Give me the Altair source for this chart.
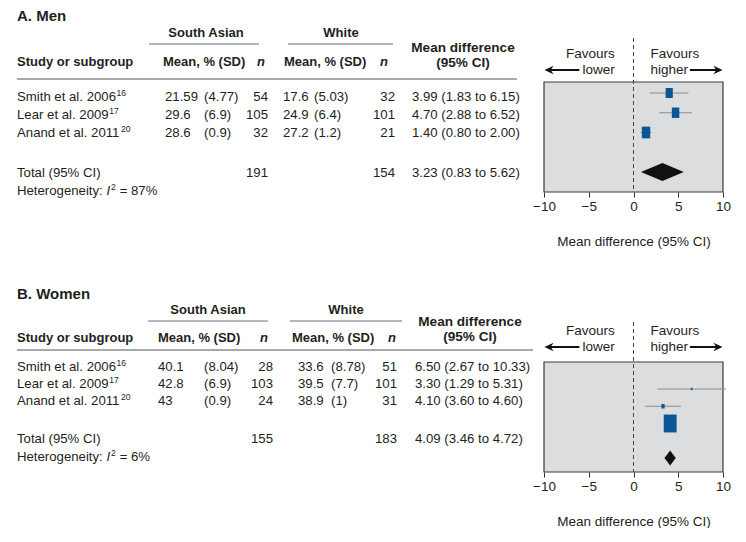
import altair as alt
import pandas as pd

# ---------------- data ----------------
studies = ["Smith et al. 2006", "Lear et al. 2009", "Anand et al. 2011"]
study_refs = ["16", "17", "20"]

men_sa_mean = [21.59, 29.6, 28.6]
men_sa_sd = [4.77, 6.9, 0.9]
men_sa_n = [54, 105, 32]
men_w_mean = [17.6, 24.9, 27.2]
men_w_sd = [5.03, 6.4, 1.2]
men_w_n = [32, 101, 21]
men_md = [3.99, 4.70, 1.40]
men_lo = [1.83, 2.88, 0.80]
men_hi = [6.15, 6.52, 2.00]
men_weight = [29.0, 31.4, 39.6]
men_total_n = [191, 154]
men_total_ci = [3.23, 0.83, 5.62]
men_i2 = 87

women_sa_mean = [40.1, 42.8, 43]
women_sa_sd = [8.04, 6.9, 0.9]
women_sa_n = [28, 103, 24]
women_w_mean = [33.6, 39.5, 38.9]
women_w_sd = [8.78, 7.7, 1]
women_w_n = [51, 101, 31]
women_md = [6.50, 3.30, 4.10]
women_lo = [2.67, 1.29, 3.60]
women_hi = [10.33, 5.31, 4.60]
women_weight = [1.6, 5.8, 92.6]
women_total_n = [155, 183]
women_total_ci = [4.09, 3.46, 4.72]
women_i2 = 6

x_ticks = [-10, -5, 0, 5, 10]

# ---------------- style / layout ----------------
FONT = "Liberation Sans, Arial, Helvetica, sans-serif"
TXT = "#231f20"
BLUE = "#0b5596"
FS = 13.2
FSB = 13.0
FSUP = 8.6

# Arial / Liberation Sans advance widths (per 1000 em) for placing superscripts
AW = {" ": 278, ".": 278, ":": 278, "S": 667, "L": 556, "A": 667, "H": 722,
      "m": 833, "i": 222, "t": 278, "h": 556, "e": 556, "a": 556, "l": 222,
      "r": 333, "n": 556, "d": 556, "o": 556, "g": 556, "y": 500}


def text_w(s, size):
    return sum(AW.get(c, 556) for c in s) * size / 1000.0


LAYOUT = {
    "A": dict(top=8, bottom=192, title_y=16, group_y=33, gline_y=44, head_y=62,
              md1_y=48, md2_y=63, hline_y=79, hline_x2=517, row0=96.5, pitch=18,
              total_y=173, het_y=191, sa_line=(149, 259), w_line=(288, 393),
              sa_c=206, w_c=341, md_c=463,
              hdr_sa_mean=163, hdr_sa_n=257, hdr_w_mean=284, hdr_w_n=380,
              c_sa_mean=165, c_sa_sd=204, c_sa_n=268, c_w_mean=283, c_w_sd=314,
              c_w_n=395, c_md=412,
              f_row0=93, f_pitch=19.75, box_top=82, dash_top=38, fav1=54, fav2=70,
              diamond_h=9, size_max=320),
    "B": dict(top=280, bottom=472, title_y=294, group_y=310, gline_y=321, head_y=338,
              md1_y=322, md2_y=337, hline_y=350, hline_x2=533, row0=367, pitch=16.8,
              total_y=439, het_y=457, sa_line=(148, 268), w_line=(290, 402),
              sa_c=208, w_c=346, md_c=470,
              hdr_sa_mean=158, hdr_sa_n=260, hdr_w_mean=292, hdr_w_n=388,
              c_sa_mean=158, c_sa_sd=204, c_sa_n=273, c_w_mean=298, c_w_sd=331,
              c_w_n=397, c_md=415,
              f_row0=389, f_pitch=17.25, box_top=362, dash_top=322, fav1=331, fav2=347,
              diamond_h=7.5, size_max=1150),
}

TABLE_W = 526
FOREST_W = 179


def fmt(v):
    return f"{v:g}"


def table_chart(p, title, sa_mean, sa_sd, sa_n, w_mean, w_sd, w_n, md, lo, hi,
                total_n, total_ci, i2):
    L = LAYOUT[p]
    items = []

    def add(x, y, text, kind):
        items.append(dict(x=x, y=y, text=text, kind=kind))

    add(17, L["title_y"], title, "title")
    add(L["sa_c"], L["group_y"], "South Asian", "bold_c")
    add(L["w_c"], L["group_y"], "White", "bold_c")
    add(17, L["head_y"], "Study or subgroup", "bold_l")
    add(L["hdr_sa_mean"], L["head_y"], "Mean, % (SD)", "bold_l")
    add(L["hdr_sa_n"], L["head_y"], "n", "bi_l")
    add(L["hdr_w_mean"], L["head_y"], "Mean, % (SD)", "bold_l")
    add(L["hdr_w_n"], L["head_y"], "n", "bi_l")
    add(L["md_c"], L["md1_y"], "Mean difference", "md_c")
    add(L["md_c"], L["md2_y"], "(95% CI)", "md_c")
    for i, name in enumerate(studies):
        y = L["row0"] + i * L["pitch"]
        add(17, y, name, "norm_l")
        add(17 + text_w(name, FS) + 0.5, y - 4, study_refs[i], "sup_l")
        add(L["c_sa_mean"], y, fmt(sa_mean[i]), "norm_l")
        add(L["c_sa_sd"], y, f"({fmt(sa_sd[i])})", "norm_l")
        add(L["c_sa_n"], y, str(sa_n[i]), "norm_r")
        add(L["c_w_mean"], y, fmt(w_mean[i]), "norm_l")
        add(L["c_w_sd"], y, f"({fmt(w_sd[i])})", "norm_l")
        add(L["c_w_n"], y, str(w_n[i]), "norm_r")
        add(L["c_md"], y, f"{md[i]:.2f} ({lo[i]:.2f} to {hi[i]:.2f})", "norm_l")
    ty = L["total_y"]
    add(17, ty, "Total (95% CI)", "norm_l")
    add(L["c_sa_n"], ty, str(total_n[0]), "norm_r")
    add(L["c_w_n"], ty, str(total_n[1]), "norm_r")
    add(L["c_md"], ty, f"{total_ci[0]:.2f} ({total_ci[1]:.2f} to {total_ci[2]:.2f})", "norm_l")
    hy = L["het_y"]
    lead = "Heterogeneity: "
    x_i = 17 + text_w(lead, FS)
    add(17, hy, lead, "norm_l")
    add(x_i, hy, "I", "it_l")
    add(x_i + 0.278 * FS + 0.8, hy - 4, "2", "sup_l")
    add(x_i + 0.278 * FS + 1.5 + 0.556 * FSUP + 3.2, hy, f"= {i2}%", "norm_l")

    df = pd.DataFrame(items)
    xs = alt.Scale(domain=[8, 8 + TABLE_W], nice=False, zero=False)
    ys = alt.Scale(domain=[L["top"], L["bottom"]], reverse=True, nice=False, zero=False)

    styles = {
        "title": dict(align="left", fontWeight="bold", fontSize=15),
        "bold_c": dict(align="center", fontWeight="bold", fontSize=FSB),
        "md_c": dict(align="center", fontWeight="bold", fontSize=13.6),
        "bold_l": dict(align="left", fontWeight="bold", fontSize=FSB),
        "bi_l": dict(align="left", fontWeight="bold", fontStyle="italic", fontSize=FSB),
        "norm_l": dict(align="left", fontSize=FS),
        "norm_r": dict(align="right", fontSize=FS),
        "it_l": dict(align="left", fontStyle="italic", fontSize=FS),
        "sup_l": dict(align="left", fontSize=FSUP),
    }
    layers = []
    for kind, st in styles.items():
        sub = df[df["kind"] == kind]
        if len(sub) == 0:
            continue
        layers.append(
            alt.Chart(sub).mark_text(baseline="middle", font=FONT, color=TXT, **st).encode(
                x=alt.X("x:Q", scale=xs, axis=None),
                y=alt.Y("y:Q", scale=ys, axis=None),
                text="text:N",
            )
        )
    lines = pd.DataFrame([
        dict(x=L["sa_line"][0], x2=L["sa_line"][1], y=L["gline_y"], kind="group"),
        dict(x=L["w_line"][0], x2=L["w_line"][1], y=L["gline_y"], kind="group"),
        dict(x=17, x2=L["hline_x2"], y=L["hline_y"], kind="head"),
    ])
    group_rules = alt.Chart(lines[lines.kind == "group"]).mark_rule(
        color="#66727e", strokeWidth=1.2).encode(
        x=alt.X("x:Q", scale=xs, axis=None), x2="x2",
        y=alt.Y("y:Q", scale=ys, axis=None))
    head_rule = alt.Chart(lines[lines.kind == "head"]).mark_rule(
        color="#555555", strokeWidth=1.2).encode(
        x=alt.X("x:Q", scale=xs, axis=None), x2="x2",
        y=alt.Y("y:Q", scale=ys, axis=None))
    return alt.layer(group_rules, head_rule, *layers).properties(
        width=TABLE_W, height=L["bottom"] - L["top"])


RECT = "M-0.72,-1L0.72,-1L0.72,1L-0.72,1Z"
ARROW_L = "M0,0L1.6,-0.75L1.1,0L1.6,0.75Z"
ARROW_R = "M0,0L-1.6,-0.75L-1.1,0L-1.6,0.75Z"


def forest_chart(p, md, lo, hi, weight, total_ci):
    L = LAYOUT[p]

    def r(px):
        return (px - L["f_row0"]) / L["f_pitch"]

    ydom = [r(L["top"]), r(L["bottom"])]
    xs = alt.Scale(domain=[x_ticks[0], x_ticks[-1]], nice=False, zero=False)
    ys = alt.Scale(domain=ydom, reverse=True, nice=False, zero=False)
    xaxis = alt.Axis(values=x_ticks, title="Mean difference (95% CI)", domain=False,
                     grid=False, ticks=True, tickSize=5, tickColor="#333333",
                     labelFontSize=13.5, labelColor=TXT, labelFont=FONT,
                     titleFont=FONT, titleFontSize=13.5, titleFontWeight="normal",
                     titleColor=TXT, labelPadding=2, titlePadding=22, labelFlush=False)

    def X(f):
        return alt.X(f"{f}:Q", scale=xs, axis=xaxis)

    def Y(f):
        return alt.Y(f"{f}:Q", scale=ys, axis=None)

    box = pd.DataFrame({"x": [x_ticks[0]], "x2": [x_ticks[-1]],
                        "y": [r(L["box_top"])], "y2": [ydom[1]]})
    box_layer = alt.Chart(box).mark_rect(fill="#dcdddf", stroke="#3a3a3a",
                                         strokeWidth=1.2).encode(
        x=X("x"), x2="x2", y=Y("y"), y2="y2")

    zero = pd.DataFrame({"x": [0], "y": [r(L["dash_top"])], "y2": [ydom[1]]})
    zero_layer = alt.Chart(zero).mark_rule(strokeDash=[4, 3], color="#444444",
                                           strokeWidth=1).encode(
        x=X("x"), y=Y("y"), y2="y2")

    st = pd.DataFrame({"row": list(range(len(md))), "md": md, "lo": lo, "hi": hi,
                       "w": weight})
    ci_layer = alt.Chart(st).mark_rule(color="#8c8c8c", strokeWidth=1).encode(
        x=X("lo"), x2="hi", y=Y("row"))
    sq_layer = alt.Chart(st).mark_point(shape=RECT, filled=True, color=BLUE,
                                        opacity=1, strokeWidth=0).encode(
        x=X("md"), y=Y("row"),
        size=alt.Size("w:Q", scale=alt.Scale(domain=[0, max(weight)],
                                             range=[0, L["size_max"]], zero=True),
                      legend=None))

    trow = 4
    h = L["diamond_h"] / L["f_pitch"]
    dia = pd.DataFrame({"x": [total_ci[1], total_ci[0], total_ci[2]],
                        "y": [trow, trow - h, trow],
                        "y2": [trow, trow + h, trow]})
    dia_layer = alt.Chart(dia).mark_area(color="#111111", opacity=1).encode(
        x=X("x"), y=Y("y"), y2="y2")

    fav_l = pd.DataFrame({"x": [-2.1, -2.1], "y": [r(L["fav1"]), r(L["fav2"])],
                          "text": ["Favours", "lower"]})
    fav_r = pd.DataFrame({"x": [1.9, 1.9], "y": [r(L["fav1"]), r(L["fav2"])],
                          "text": ["Favours", "higher"]})
    fl = alt.Chart(fav_l).mark_text(align="right", baseline="middle", font=FONT,
                                    fontSize=13.5, color=TXT).encode(
        x=X("x"), y=Y("y"), text="text:N")
    fr = alt.Chart(fav_r).mark_text(align="left", baseline="middle", font=FONT,
                                    fontSize=13.5, color=TXT).encode(
        x=X("x"), y=Y("y"), text="text:N")

    ay = r(L["fav2"])
    arrows = pd.DataFrame({"x": [-9.5, 6.3], "x2": [-6.05, 9.5], "y": [ay, ay]})
    arrow_lines = alt.Chart(arrows).mark_rule(color="#111111", strokeWidth=2).encode(
        x=X("x"), x2="x2", y=Y("y"))
    head_l = alt.Chart(pd.DataFrame({"x": [-9.95], "y": [ay]})).mark_point(
        shape=ARROW_L, filled=True, color="#111111", opacity=1, size=130,
        strokeWidth=0).encode(x=X("x"), y=Y("y"))
    head_r = alt.Chart(pd.DataFrame({"x": [9.95], "y": [ay]})).mark_point(
        shape=ARROW_R, filled=True, color="#111111", opacity=1, size=130,
        strokeWidth=0).encode(x=X("x"), y=Y("y"))

    return alt.layer(box_layer, zero_layer, ci_layer, sq_layer, dia_layer, fl, fr,
                     arrow_lines, head_l, head_r).properties(
        width=FOREST_W, height=L["bottom"] - L["top"])


tA = table_chart("A", "A. Men", men_sa_mean, men_sa_sd, men_sa_n, men_w_mean, men_w_sd,
                 men_w_n, men_md, men_lo, men_hi, men_total_n, men_total_ci, men_i2)
fA = forest_chart("A", men_md, men_lo, men_hi, men_weight, men_total_ci)
tB = table_chart("B", "B. Women", women_sa_mean, women_sa_sd, women_sa_n, women_w_mean,
                 women_w_sd, women_w_n, women_md, women_lo, women_hi, women_total_n,
                 women_total_ci, women_i2)
fB = forest_chart("B", women_md, women_lo, women_hi, women_weight, women_total_ci)

chart = alt.concat(tA, fA, tB, fB, columns=2,
                   spacing={"row": LAYOUT["B"]["top"] - LAYOUT["A"]["bottom"], "column": 10},
                   align="each", bounds="flush").properties(
    padding=0, background="white").configure_view(strokeWidth=0)

chart.save("out.html", embed_options={"renderer": "svg", "actions": False})
